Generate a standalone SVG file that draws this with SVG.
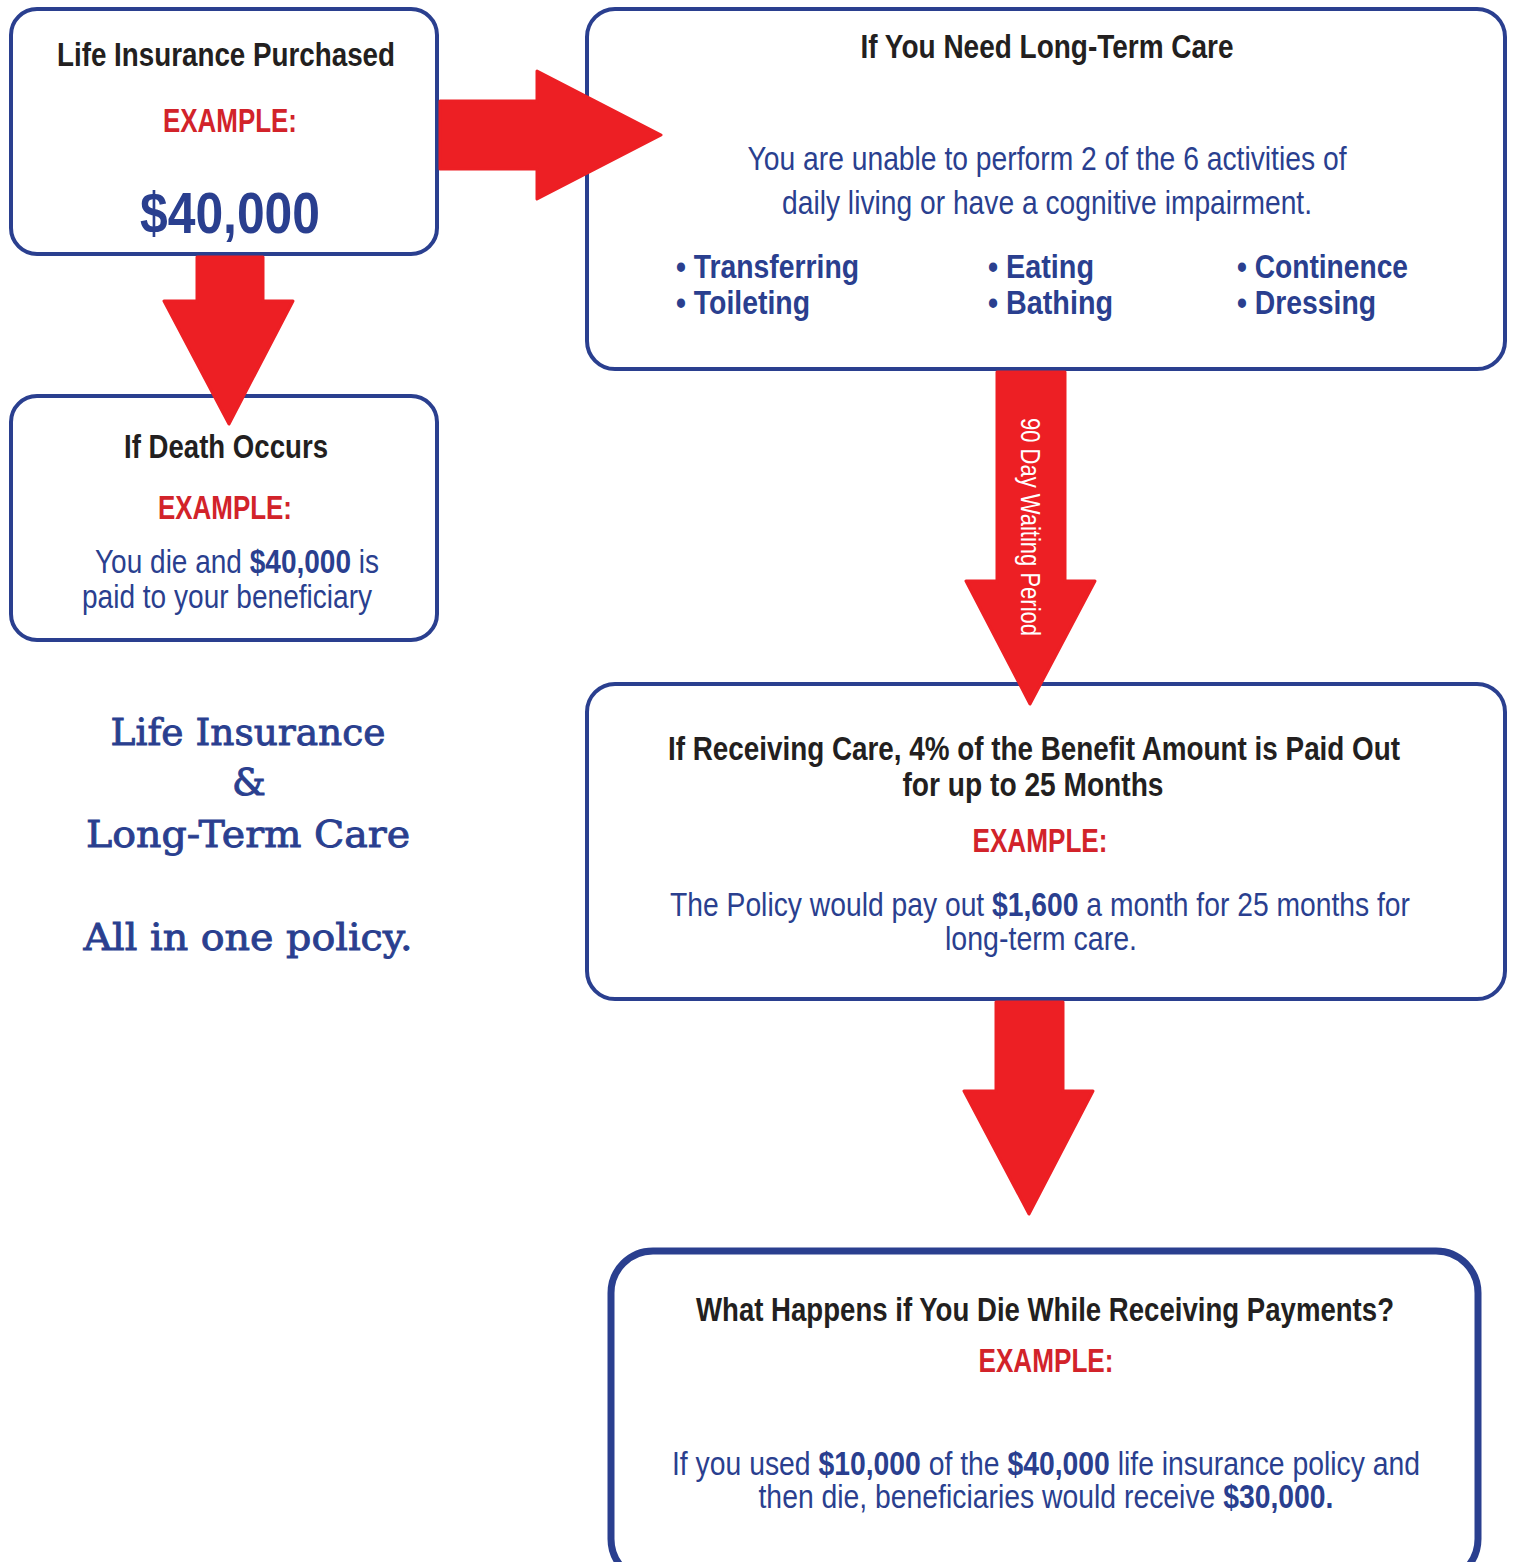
<svg xmlns="http://www.w3.org/2000/svg" width="1515" height="1562" viewBox="0 0 1515 1562">
<style>
.box{fill:#fff;stroke:#2a3f8f;stroke-width:4}
.arrow{fill:#ed1f24;stroke:#ed1f24;stroke-width:3;stroke-linejoin:round}
text{font-family:"Liberation Sans",Arial,sans-serif;text-anchor:middle}
.h{font-weight:bold;fill:#231f20;font-size:33px}
.ex{font-weight:bold;fill:#d2232a;font-size:33px}
.b{fill:#2a3f8f;font-size:33px}
.bb{fill:#2a3f8f;font-size:33px;font-weight:bold}
.li{text-anchor:start}
.bold{font-weight:bold}
.serif{font-family:"DejaVu Serif","Liberation Serif",serif;fill:#2a3f8f;font-size:38px;stroke:#2a3f8f;stroke-width:0.9}
.vt{fill:#fff;font-size:28px}
</style>
<rect width="1515" height="1562" fill="#fff"/>
<g id="node-purchased">
<rect class="box" x="11" y="9" width="426" height="245" rx="26"/>
<text class="h" x="226" y="66" textLength="338" lengthAdjust="spacingAndGlyphs">Life Insurance Purchased</text>
<text class="ex" x="230" y="132" textLength="134" lengthAdjust="spacingAndGlyphs">EXAMPLE:</text>
<text class="bb" x="230" y="233" style="font-size:58px" textLength="180" lengthAdjust="spacingAndGlyphs">$40,000</text>
</g>
<g id="node-ltc">
<rect class="box" x="587" y="9" width="918" height="360" rx="28"/>
<text class="h" x="1047" y="58" textLength="373" lengthAdjust="spacingAndGlyphs">If You Need Long-Term Care</text>
<text class="b" x="1047" y="170" textLength="599" lengthAdjust="spacingAndGlyphs">You are unable to perform 2 of the 6 activities of</text>
<text class="b" x="1047" y="214" textLength="530" lengthAdjust="spacingAndGlyphs">daily living or have a cognitive impairment.</text>
<text class="bb li" x="676" y="278" textLength="183" lengthAdjust="spacingAndGlyphs">• Transferring</text>
<text class="bb li" x="676" y="314" textLength="134" lengthAdjust="spacingAndGlyphs">• Toileting</text>
<text class="bb li" x="988" y="278" textLength="106" lengthAdjust="spacingAndGlyphs">• Eating</text>
<text class="bb li" x="988" y="314" textLength="125" lengthAdjust="spacingAndGlyphs">• Bathing</text>
<text class="bb li" x="1237" y="278" textLength="171" lengthAdjust="spacingAndGlyphs">• Continence</text>
<text class="bb li" x="1237" y="314" textLength="139" lengthAdjust="spacingAndGlyphs">• Dressing</text>
</g>
<g id="node-death">
<rect class="box" x="11" y="396" width="426" height="244" rx="26"/>
<text class="h" x="226" y="458" textLength="204" lengthAdjust="spacingAndGlyphs">If Death Occurs</text>
<text class="ex" x="225" y="519" textLength="134" lengthAdjust="spacingAndGlyphs">EXAMPLE:</text>
<text class="b" x="237" y="573" textLength="284" lengthAdjust="spacingAndGlyphs">You die and <tspan class="bold">$40,000</tspan> is</text>
<text class="b" x="227" y="608" textLength="290" lengthAdjust="spacingAndGlyphs">paid to your beneficiary</text>
</g>
<g id="tagline">
<text class="serif" x="248" y="745" textLength="275" lengthAdjust="spacingAndGlyphs">Life Insurance</text>
<text class="serif" x="249" y="795">&amp;</text>
<text class="serif" x="248" y="847" textLength="324" lengthAdjust="spacingAndGlyphs">Long-Term Care</text>
<text class="serif" x="248" y="950" textLength="329" lengthAdjust="spacingAndGlyphs">All in one policy.</text>
</g>
<g id="node-receiving">
<rect class="box" x="587" y="684" width="918" height="315" rx="28"/>
<text class="h" x="1034" y="760" textLength="732" lengthAdjust="spacingAndGlyphs">If Receiving Care, 4% of the Benefit Amount is Paid Out</text>
<text class="h" x="1033" y="796" textLength="261" lengthAdjust="spacingAndGlyphs">for up to 25 Months</text>
<text class="ex" x="1040" y="852" textLength="135" lengthAdjust="spacingAndGlyphs">EXAMPLE:</text>
<text class="b" x="1040" y="916" textLength="740" lengthAdjust="spacingAndGlyphs">The Policy would pay out <tspan class="bold">$1,600</tspan> a month for 25 months for</text>
<text class="b" x="1041" y="950" textLength="192" lengthAdjust="spacingAndGlyphs">long-term care.</text>
</g>
<g id="node-die-while">
<rect x="611" y="1251" width="867" height="330" rx="42" fill="#fff" stroke="#2a3f8f" stroke-width="7"/>
<text class="h" x="1045" y="1321" textLength="698" lengthAdjust="spacingAndGlyphs">What Happens if You Die While Receiving Payments?</text>
<text class="ex" x="1046" y="1372" textLength="135" lengthAdjust="spacingAndGlyphs">EXAMPLE:</text>
<text class="b" x="1046" y="1475" textLength="748" lengthAdjust="spacingAndGlyphs">If you used <tspan class="bold">$10,000</tspan> of the <tspan class="bold">$40,000</tspan> life insurance policy and</text>
<text class="b" x="1046" y="1508" textLength="575" lengthAdjust="spacingAndGlyphs">then die, beneficiaries would receive <tspan class="bold">$30,000.</tspan></text>
</g>
<g id="connectors">
<polygon class="arrow" points="440,101 537,101 537,71 661,135 537,199 537,169 440,169"/>
<polygon class="arrow" points="197,257 263,257 263,301 293,301 229,424 164,301 197,301"/>
<polygon class="arrow" points="997,372 1065,372 1065,581 1095,581 1030,704 966,581 997,581"/>
<polygon class="arrow" points="996,1002 1063,1002 1063,1091 1093,1091 1029,1214 964,1091 996,1091"/>
<text class="vt" transform="translate(1021,527) rotate(90)" textLength="218" lengthAdjust="spacingAndGlyphs">90 Day Waiting Period</text>
</g>
</svg>
